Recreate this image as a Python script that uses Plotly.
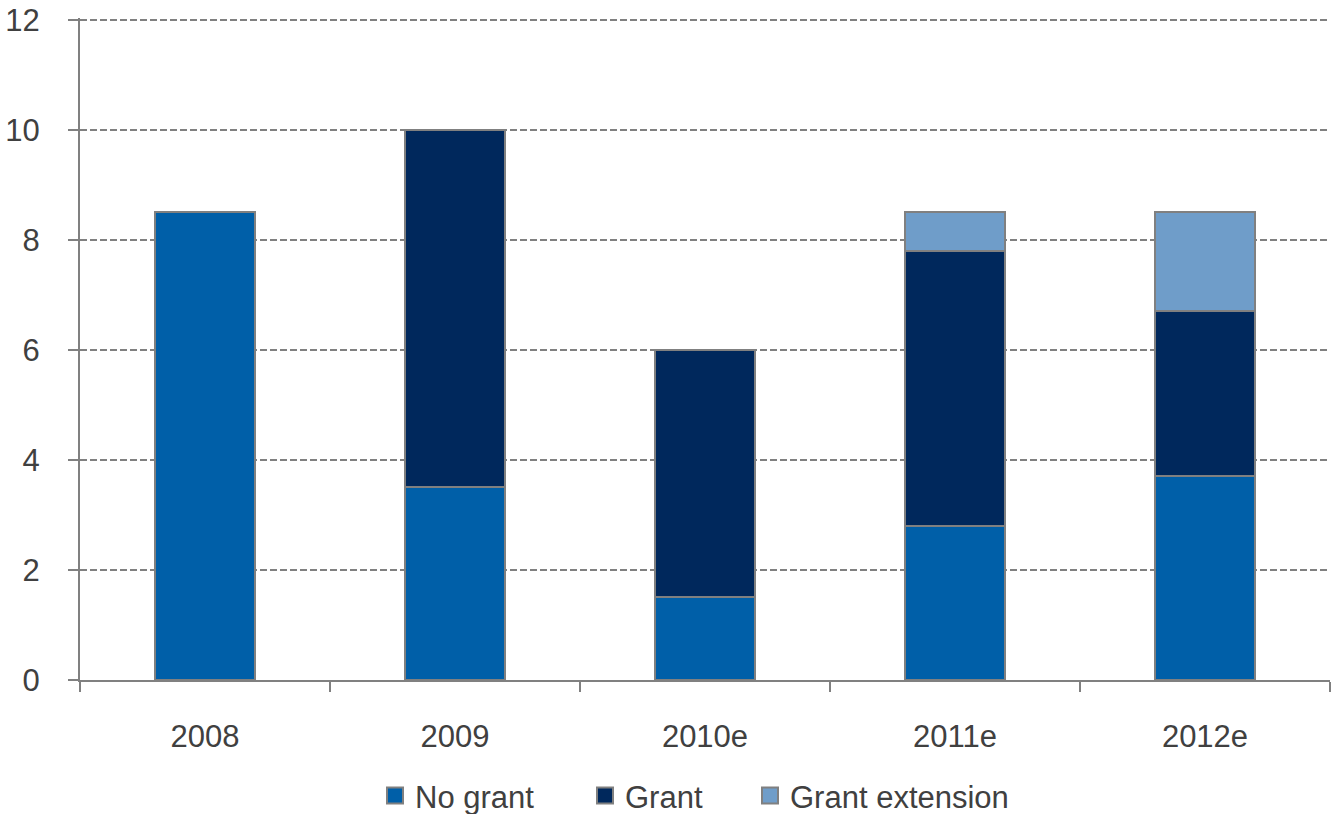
import plotly.graph_objects as go

categories = ["2008", "2009", "2010e", "2011e", "2012e"]
no_grant = [8.5, 3.5, 1.5, 2.8, 3.7]
grant = [0, 6.5, 4.5, 5.0, 3.0]
grant_ext = [0, 0, 0, 0.7, 1.8]

series = [
    ("No grant", no_grant, "#005FA8"),
    ("Grant", grant, "#00285C"),
    ("Grant extension", grant_ext, "#6F9DC9"),
]
legend_x = [0.236, 0.404, 0.536]
legend_ids = ["legend", "legend2", "legend3"]

fig = go.Figure()
for (name, vals, col), lid in zip(series, legend_ids):
    fig.add_trace(go.Bar(
        x=categories, y=vals, name=name, showlegend=False,
        marker=dict(color=col, line=dict(color="#808080", width=2)),
    ))
    # legend key (square swatch)
    fig.add_trace(go.Scatter(
        x=[None], y=[None], mode="markers", name=name, legend=lid,
        marker=dict(symbol="square", size=18, color=col, line=dict(color="#808080", width=2)),
    ))

leg_common = dict(orientation="h", xanchor="left", y=-0.175, yanchor="middle",
                  font=dict(size=31, color="#404040"), itemwidth=30,
                  bgcolor="rgba(0,0,0,0)")

fig.update_layout(
    barmode="stack",
    bargap=0.6,
    width=1332, height=814,
    margin=dict(l=80, r=2, t=18, b=134, autoexpand=False),
    plot_bgcolor="white", paper_bgcolor="white",
    font=dict(family="Liberation Sans, Arial, sans-serif", size=31, color="#404040"),
    showlegend=True,
    legend=dict(x=legend_x[0], **leg_common),
    legend2=dict(x=legend_x[1], **leg_common),
    legend3=dict(x=legend_x[2], **leg_common),
)
fig.update_xaxes(
    automargin=False,
    showline=True, linecolor="#808080", linewidth=2,
    ticks="outside", tickson="boundaries", ticklen=10, tickcolor="#808080", tickwidth=2,
    ticklabelstandoff=28, showgrid=False,
    tickfont=dict(size=31),
)
fig.update_yaxes(
    automargin=False,
    range=[0, 12.03], dtick=2,
    showline=True, linecolor="#808080", linewidth=2,
    ticks="outside", ticklen=10, tickcolor="#808080", tickwidth=2,
    ticklabelstandoff=22,
    showgrid=True, gridcolor="#808080", griddash="7px,3px", gridwidth=1.5,
    zeroline=False,
    tickfont=dict(size=31),
)

fig.write_html("out.html", config={"displayModeBar": False},
               post_script="document.body.style.margin='0';")
